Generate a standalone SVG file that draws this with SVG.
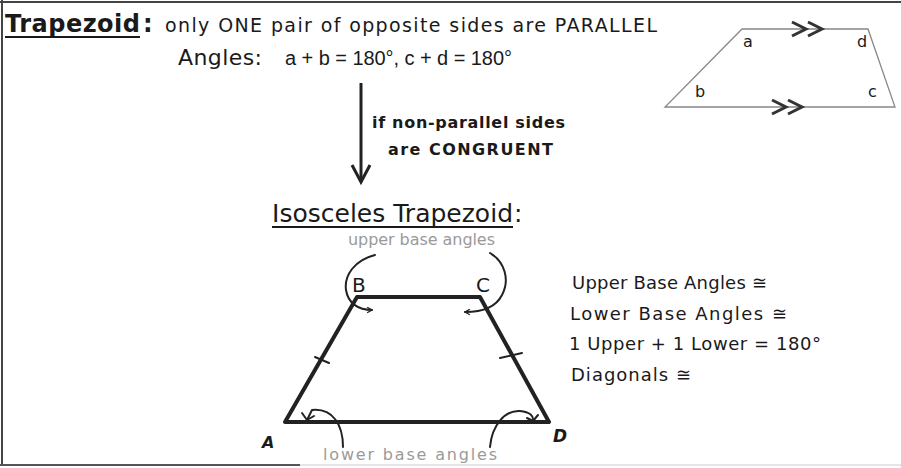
<svg xmlns="http://www.w3.org/2000/svg" width="901" height="468" viewBox="0 0 901 468">
<defs>
<style>
.t{font-family:"DejaVu Sans","Liberation Sans",sans-serif;fill:#1a1a1a}
.b{font-weight:bold}
.faint{font-family:"DejaVu Sans","Liberation Sans",sans-serif;fill:#9a9a9a;font-size:16px}
.thick{stroke:#222;stroke-width:4;fill:none;stroke-linejoin:round}
.thin{stroke:#888;stroke-width:1.3;fill:none}
.pen{stroke:#222;stroke-width:2;fill:none;stroke-linecap:round;stroke-linejoin:round}
.chev{stroke:#333;stroke-width:3;fill:none;stroke-linejoin:miter}
</style>
<marker id="ah" viewBox="0 0 10 10" refX="8" refY="5" markerWidth="7" markerHeight="7" orient="auto" markerUnits="userSpaceOnUse">
<path d="M1,1 L8,5 L1,9" fill="none" stroke="#222" stroke-width="1.8"/>
</marker>
</defs>
<rect width="901" height="468" fill="#fff"/>
<g id="frame">
<line x1="0" y1="2" x2="901" y2="2" stroke="#444" stroke-width="2"/>
<line x1="2" y1="0" x2="2" y2="466" stroke="#444" stroke-width="2"/>
<line x1="0" y1="465" x2="300" y2="465" stroke="#555" stroke-width="2"/>
<line x1="300" y1="465" x2="901" y2="465" stroke="#ddd" stroke-width="1.5"/>
</g>
<g id="trapezoid-def">
<text class="t b" x="5" y="32" font-size="24" textLength="135">Trapezoid</text>
<line x1="5" y1="37" x2="140" y2="37" stroke="#1a1a1a" stroke-width="2"/>
<text class="t b" x="143" y="32" font-size="24">:</text>
<text class="t" x="165" y="32" font-size="19" textLength="492">only ONE pair of opposite sides are PARALLEL</text>
<text class="t" x="178" y="65" font-size="22" textLength="84">Angles:</text>
<text class="t" x="285" y="65" font-size="20" font-family="Liberation Sans" style="font-family:'Liberation Sans',sans-serif" textLength="227">a + b = 180°, c + d = 180°</text>
</g>
<g id="small-trapezoid">
<polygon class="thin" points="742,29 868,29 895,107 665,107"/>
<path class="chev" d="M792,22 L806,29 L792,36 M808,22 L822,29 L808,36"/>
<path class="chev" d="M772,100 L786,107 L772,114 M788,100 L802,107 L788,114"/>
<text class="t" x="743" y="47" font-size="16">a</text>
<text class="t" x="857" y="47" font-size="16">d</text>
<text class="t" x="695" y="97" font-size="16">b</text>
<text class="t" x="868" y="97" font-size="16">c</text>
</g>
<g id="connectors">
<line x1="361" y1="83" x2="361" y2="180" stroke="#222" stroke-width="3"/>
<path d="M352,165 L361,182 L370,165" fill="none" stroke="#222" stroke-width="3"/>
</g>
<g id="condition">
<text class="t b" x="372" y="128" font-size="16" textLength="193">if non-parallel sides</text>
<text class="t b" x="388" y="155" font-size="16" textLength="165">are CONGRUENT</text>
</g>
<g id="isosceles">
<text class="t" x="272" y="222" font-size="25" textLength="241">Isosceles Trapezoid</text>
<line x1="272" y1="227" x2="513" y2="227" stroke="#1a1a1a" stroke-width="2"/>
<text class="t" x="514" y="222" font-size="25">:</text>
<text class="faint" x="348" y="245" textLength="147">upper base angles</text>
<polygon class="thick" points="357,297 480,297 549,422 285,422"/>
<line class="pen" x1="315" y1="357" x2="329" y2="363"/>
<line class="pen" x1="500" y1="358" x2="522" y2="353"/>
<text class="t" x="352" y="292" font-size="20" font-family="Liberation Serif">B</text>
<text class="t" x="476" y="292" font-size="20" font-family="Liberation Serif">C</text>
<text class="t b" x="262" y="448" font-size="16" font-style="italic">A</text>
<text class="t b" x="553" y="442" font-size="17" font-style="italic">D</text>
<path class="pen" d="M375,255 C355,260 344,275 346,290 C348,303 358,310 372,310" marker-end="url(#ah)"/>
<path class="pen" d="M490,253 C505,262 510,280 502,295 C496,307 482,312 465,312" marker-end="url(#ah)"/>
<path class="pen" d="M343,447 C343,425 333,408 312,410 L307,420"/>
<path class="pen" d="M302,413 L307,420 L314,416"/>
<path class="pen" d="M490,447 C492,425 505,410 520,411 C530,412 534,416 533,421"/>
<path class="pen" d="M527,418 L533,421 L538,415"/>
<text class="faint" x="323" y="460" textLength="174">lower base angles</text>
</g>
<g id="properties">
<text class="t" x="572" y="289" font-size="18" textLength="195">Upper Base Angles ≅</text>
<text class="t" x="570" y="320" font-size="18" textLength="217">Lower Base Angles ≅</text>
<text class="t" x="569" y="350" font-size="18" textLength="252">1 Upper + 1 Lower = 180°</text>
<text class="t" x="571" y="381" font-size="18" textLength="120">Diagonals ≅</text>
</g>
</svg>
